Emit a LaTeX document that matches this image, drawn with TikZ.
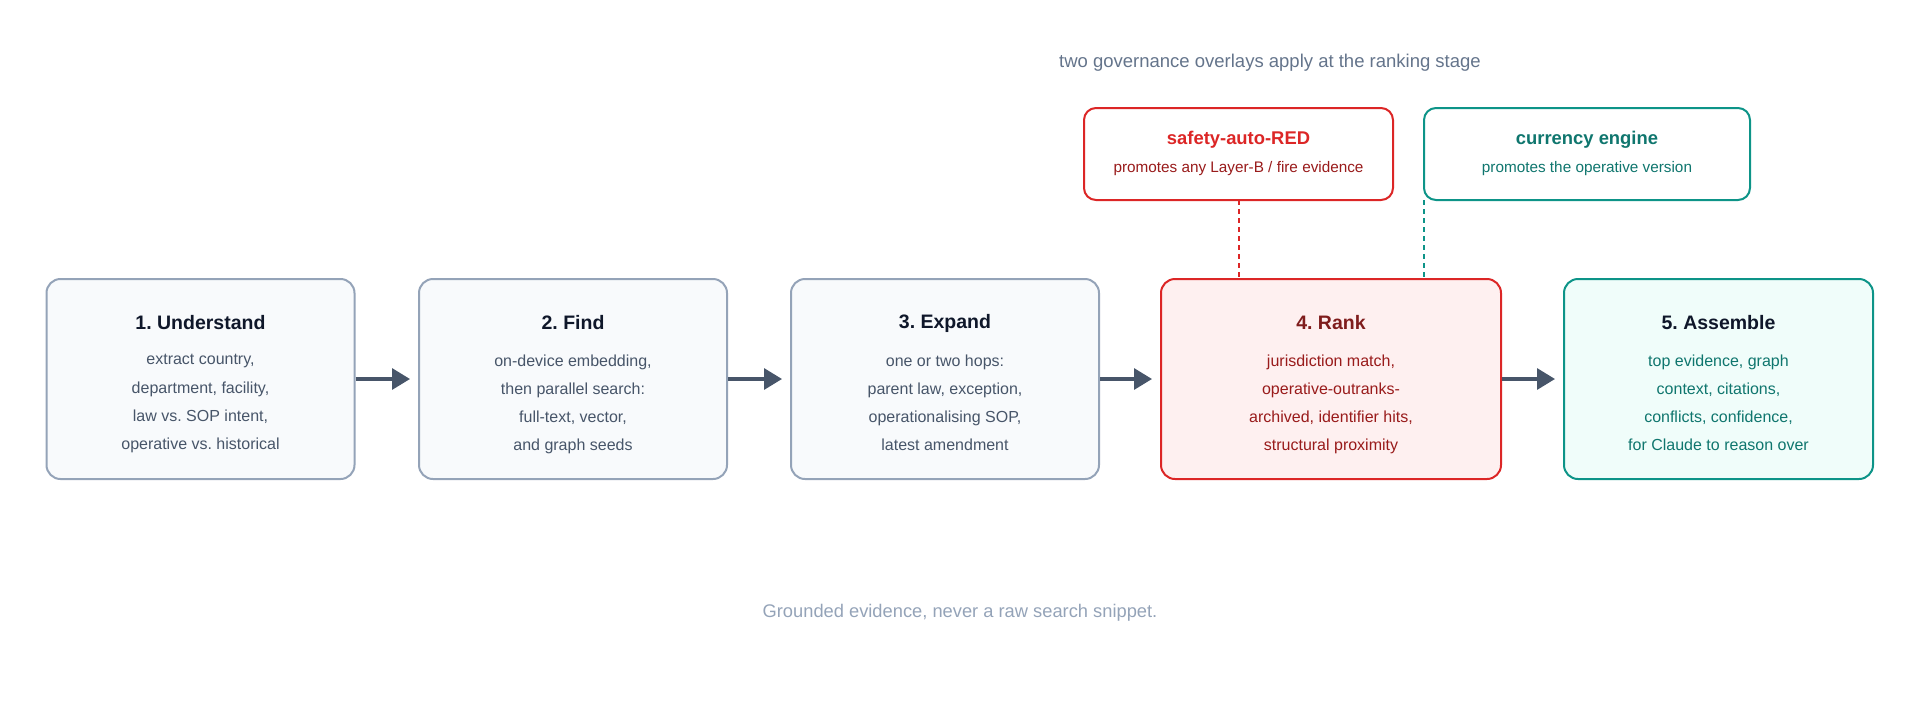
\documentclass[tikz,border=0pt]{standalone}
\usepackage{fontspec}
\setmainfont{Liberation Sans}
\usetikzlibrary{arrows.meta}
\frenchspacing
\definecolor{slateB}{HTML}{94A3B8}
\definecolor{slateF}{HTML}{F8FAFC}
\definecolor{slateT}{HTML}{0F172A}
\definecolor{slateD}{HTML}{475569}
\definecolor{slateC}{HTML}{64748B}
\definecolor{redB}{HTML}{DC2626}
\definecolor{redF}{HTML}{FEF0F0}
\definecolor{redT}{HTML}{7F1D1D}
\definecolor{redD}{HTML}{991B1B}
\definecolor{tealB}{HTML}{0D9488}
\definecolor{tealF}{HTML}{F0FDFA}
\definecolor{tealD}{HTML}{0F766E}
\tikzset{
  stagebox/.style={draw, line width=2pt, rounded corners=14pt, minimum width=308pt, minimum height=200pt, inner sep=0pt},
  greybox/.style={stagebox, draw=slateB, fill=slateF},
  redbox/.style={stagebox, draw=redB, fill=redF, minimum width=340pt},
  tealbox/.style={stagebox, draw=tealB, fill=tealF, minimum width=309pt},
  ovbox/.style={draw, line width=2pt, rounded corners=12pt, minimum height=92pt, inner sep=0pt, fill=white},
  ttl/.style={font=\fontsize{19.5}{23}\selectfont\bfseries, text=slateT},
  body/.style={font=\fontsize{16}{28.2}\selectfont, align=center},
  flow/.style={draw=slateD, line width=3.2pt, -{Triangle[length=18pt,width=21pt]}},
  link/.style={line width=2pt, dash pattern=on 5pt off 4pt}
}
\begin{document}
\begin{tikzpicture}[x=1pt,y=-1pt]
\useasboundingbox (0,0) rectangle (1920,713);
% captions
\node[font=\fontsize{18.5}{22}\selectfont, text=slateC] (cap) at (1270,63) {two governance overlays apply at the ranking stage};
\node[font=\fontsize{18.3}{22}\selectfont, text=slateB] (foot) at (960,613) {Grounded evidence, never a raw search snippet.};
% stage boxes
\node[greybox] (b1) at (200.5,379) {};
\node[greybox] (b2) at (573,379) {};
\node[greybox] (b3) at (945,379) {};
\node[redbox]  (b4) at (1331,379) {};
\node[tealbox] (b5) at (1718.5,379) {};
% titles
\node[ttl] (t1) at (200.5,323) {1. Understand};
\node[ttl] (t2) at (573,323) {2. Find};
\node[ttl] (t3) at (945,323) {3. Expand};
\node[ttl, text=redT] (t4) at (1331,323) {4. Rank};
\node[ttl] (t5) at (1718.5,323) {5. Assemble};
% bodies
\node[body, text=slateD, anchor=north] (d1) at (200.5,351) {extract country,\\department, facility,\\law vs. SOP intent,\\operative vs. historical};
\node[body, text=slateD, anchor=north] (d2) at (573,351) {on-device embedding,\\then parallel search:\\full-text, vector,\\and graph seeds};
\node[body, text=slateD, anchor=north] (d3) at (945,351) {one or two hops:\\parent law, exception,\\operationalising SOP,\\latest amendment};
\node[body, text=redD, anchor=north] (d4) at (1331,351) {jurisdiction match,\\operative-outranks-\\archived, identifier hits,\\structural proximity};
\node[body, text=tealD, anchor=north] (d5) at (1718.5,351) {top evidence, graph\\context, citations,\\conflicts, confidence,\\for Claude to reason over};
% arrows
\draw[flow] (b1.east) -- ([xshift=-8pt]b2.west);
\draw[flow] (b2.east) -- ([xshift=-8pt]b3.west);
\draw[flow] (b3.east) -- ([xshift=-8pt]b4.west);
\draw[flow] (b4.east) -- ([xshift=-8pt]b5.west);
% overlays
\node[ovbox, draw=redB, minimum width=309pt] (o1) at (1238.5,154) {};
\node[ovbox, draw=tealB, minimum width=326pt] (o2) at (1587,154) {};
\node[font=\fontsize{18.4}{22}\selectfont\bfseries, text=redB] (o1t) at (1238.5,140) {safety-auto-RED};
\node[font=\fontsize{15.3}{18}\selectfont, text=redD] (o1s) at (1238.5,169) {promotes any Layer-B / fire evidence};
\node[font=\fontsize{18.4}{22}\selectfont\bfseries, text=tealD] (o2t) at (1587,140) {currency engine};
\node[font=\fontsize{15.3}{18}\selectfont, text=tealD] (o2s) at (1587,169) {promotes the operative version};
% dashed links
\coordinate (l1a) at (1239,200);
\coordinate (l1b) at (1239,279);
\coordinate (l2a) at (1424,200);
\coordinate (l2b) at (1424,279);
\draw[link, draw=redB] (l1a) -- (l1b);
\draw[link, draw=tealB] (l2a) -- (l2b);
\end{tikzpicture}
\end{document}
